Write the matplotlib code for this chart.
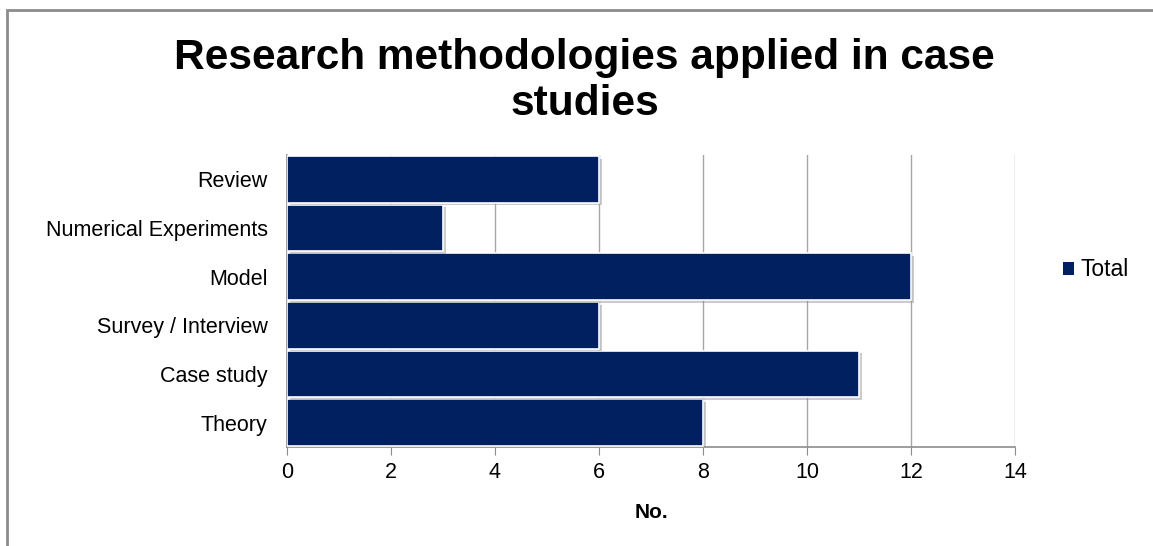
import matplotlib.pyplot as plt
import matplotlib.patheffects as pe
from matplotlib.patches import Rectangle, Patch

plt.rcParams['font.family'] = ['Liberation Sans', 'DejaVu Sans']

# methodologies, listed bottom to top
methods = ['Theory', 'Case study', 'Survey / Interview', 'Model',
           'Numerical Experiments', 'Review']
counts = [8, 11, 6, 12, 3, 6]
xticks = [0, 2, 4, 6, 8, 10, 12, 14]
bar_color = '#012060'

fig = plt.figure(figsize=(11.53, 5.46), dpi=100)
ax = fig.add_axes([287 / 1153, 1 - 447 / 546, (1015 - 287) / 1153, (447 - 155) / 546])

# outer chart frame
fig.patches.append(Rectangle((7 / 1153, -0.05), 1.1, 1 - 9.5 / 546 + 0.05,
                             transform=fig.transFigure, fill=False,
                             edgecolor='#8c8c8c', linewidth=2))

bars = ax.barh(methods, counts, height=0.96, color=bar_color,
               edgecolor='white', linewidth=1.2, label='Total', zorder=3)
for b in bars:
    b.set_path_effects([pe.SimplePatchShadow(offset=(2, -2), shadow_rgbFace='#8f8f8f', alpha=0.45),
                        pe.Normal()])

ax.set_xlim(0, 14)
ax.set_ylim(-0.5, len(methods) - 0.5)
ax.set_xticks(xticks)
ax.set_xticklabels([str(t) for t in xticks], fontsize=15.5)
ax.tick_params(axis='x', length=6, color='#8c8c8c', pad=5)
ax.tick_params(axis='y', length=0, labelsize=15.5, pad=14)
ax.grid(axis='x', color='#a6a6a6', linewidth=1, zorder=0)

for side in ['top', 'right']:
    ax.spines[side].set_visible(False)
for side in ['left', 'bottom']:
    ax.spines[side].set_color('#8c8c8c')
    ax.spines[side].set_linewidth(1.2)

ax.set_xlabel('No.', fontsize=15, fontweight='bold', labelpad=14)

fig.text(0.507, 1 - 81 / 546, 'Research methodologies applied in case\nstudies',
         ha='center', va='center', fontsize=30.5, fontweight='bold', linespacing=1.22)

fig.legend(handles=[Patch(facecolor=bar_color)], labels=['Total'], loc='center left',
           bbox_to_anchor=(1042 / 1153, 1 - 270 / 546), frameon=False,
           fontsize=16.5, handlelength=0.5, handleheight=0.5, handletextpad=0.3)

fig.savefig('out.png', dpi=100)
